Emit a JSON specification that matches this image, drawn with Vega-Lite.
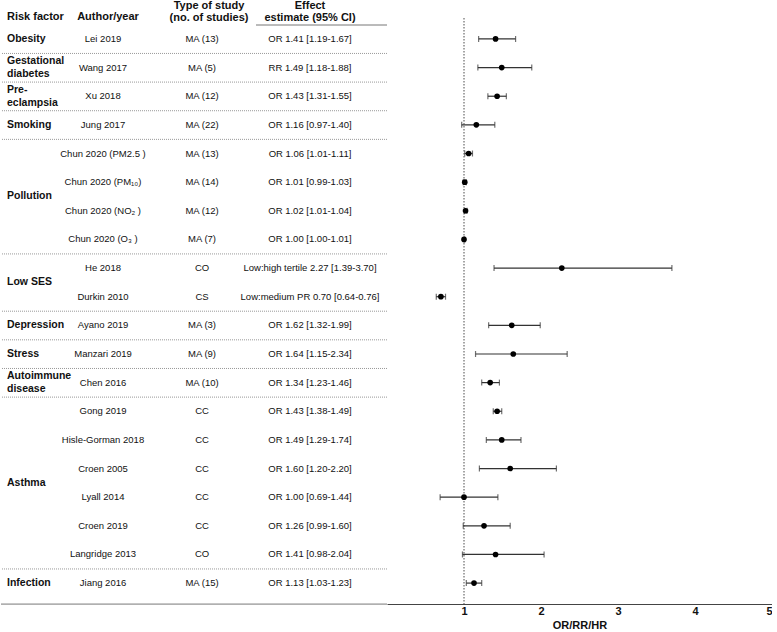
{
  "$schema": "https://vega.github.io/schema/vega-lite/v6.json",
  "background": "white",
  "padding": 0,
  "spacing": 0,
  "bounds": "flush",
  "config": {"view": {"stroke": null}, "font": "Liberation Sans", "text": {"font": "Liberation Sans", "color": "#111"}},
  "datasets": {
    "rows": [
      {"row": 1, "factor": "Obesity", "author": "Lei 2019", "type": "MA (13)", "effect": "OR 1.41 [1.19-1.67]", "est": 1.41, "lo": 1.19, "hi": 1.67},
      {"row": 2, "factor": "Gestational\ndiabetes", "author": "Wang 2017", "type": "MA (5)", "effect": "RR 1.49 [1.18-1.88]", "est": 1.49, "lo": 1.18, "hi": 1.88},
      {"row": 3, "factor": "Pre-\neclampsia", "author": "Xu 2018", "type": "MA (12)", "effect": "OR 1.43 [1.31-1.55]", "est": 1.43, "lo": 1.31, "hi": 1.55},
      {"row": 4, "factor": "Smoking", "author": "Jung 2017", "type": "MA (22)", "effect": "OR 1.16 [0.97-1.40]", "est": 1.16, "lo": 0.97, "hi": 1.40},
      {"row": 5, "factor": "Pollution", "author": "Chun 2020 (PM2.5 )", "type": "MA (13)", "effect": "OR 1.06 [1.01-1.11]", "est": 1.06, "lo": 1.01, "hi": 1.11},
      {"row": 6, "factor": "Pollution", "author": "Chun 2020 (PM₁₀)", "type": "MA (14)", "effect": "OR 1.01 [0.99-1.03]", "est": 1.01, "lo": 0.99, "hi": 1.03},
      {"row": 7, "factor": "Pollution", "author": "Chun 2020 (NO₂ )", "type": "MA (12)", "effect": "OR 1.02 [1.01-1.04]", "est": 1.02, "lo": 1.01, "hi": 1.04},
      {"row": 8, "factor": "Pollution", "author": "Chun 2020 (O₃ )", "type": "MA (7)", "effect": "OR 1.00 [1.00-1.01]", "est": 1.00, "lo": 1.00, "hi": 1.01},
      {"row": 9, "factor": "Low SES", "author": "He 2018", "type": "CO", "effect": "Low:high tertile 2.27 [1.39-3.70]", "est": 2.27, "lo": 1.39, "hi": 3.70},
      {"row": 10, "factor": "Low SES", "author": "Durkin 2010", "type": "CS", "effect": "Low:medium PR 0.70 [0.64-0.76]", "est": 0.70, "lo": 0.64, "hi": 0.76},
      {"row": 11, "factor": "Depression", "author": "Ayano 2019", "type": "MA (3)", "effect": "OR 1.62 [1.32-1.99]", "est": 1.62, "lo": 1.32, "hi": 1.99},
      {"row": 12, "factor": "Stress", "author": "Manzari 2019", "type": "MA (9)", "effect": "OR 1.64 [1.15-2.34]", "est": 1.64, "lo": 1.15, "hi": 2.34},
      {"row": 13, "factor": "Autoimmune\ndisease", "author": "Chen 2016", "type": "MA (10)", "effect": "OR 1.34 [1.23-1.46]", "est": 1.34, "lo": 1.23, "hi": 1.46},
      {"row": 14, "factor": "Asthma", "author": "Gong 2019", "type": "CC", "effect": "OR 1.43 [1.38-1.49]", "est": 1.43, "lo": 1.38, "hi": 1.49},
      {"row": 15, "factor": "Asthma", "author": "Hisle-Gorman 2018", "type": "CC", "effect": "OR 1.49 [1.29-1.74]", "est": 1.49, "lo": 1.29, "hi": 1.74},
      {"row": 16, "factor": "Asthma", "author": "Croen 2005", "type": "CC", "effect": "OR 1.60 [1.20-2.20]", "est": 1.60, "lo": 1.20, "hi": 2.20},
      {"row": 17, "factor": "Asthma", "author": "Lyall 2014", "type": "CC", "effect": "OR 1.00 [0.69-1.44]", "est": 1.00, "lo": 0.69, "hi": 1.44},
      {"row": 18, "factor": "Asthma", "author": "Croen 2019", "type": "CC", "effect": "OR 1.26 [0.99-1.60]", "est": 1.26, "lo": 0.99, "hi": 1.60},
      {"row": 19, "factor": "Asthma", "author": "Langridge 2013", "type": "CO", "effect": "OR 1.41 [0.98-2.04]", "est": 1.41, "lo": 0.98, "hi": 2.04},
      {"row": 20, "factor": "Infection", "author": "Jiang 2016", "type": "MA (15)", "effect": "OR 1.13 [1.03-1.23]", "est": 1.13, "lo": 1.03, "hi": 1.23}
    ],
    "header": [
      {"col": "risk", "label": "Risk factor"},
      {"col": "author", "label": "Author/year"},
      {"col": "type", "label": "Type of study\n(no. of studies)"},
      {"col": "effect", "label": "Effect\nestimate (95% CI)"}
    ],
    "one": [{}]
  },
  "hconcat": [
    {
      "width": 386,
      "height": 604,
      "layer": [
        {
          "data": {"name": "header"},
          "transform": [{"filter": "datum.col === 'risk'"}],
          "mark": {"type": "text", "align": "left", "baseline": "bottom", "dy": 12, "fontWeight": "bold", "fontSize": 11, "lineHeight": 12},
          "encoding": {
            "x": {"field": "col", "type": "nominal", "scale": {"type": "point", "domain": ["risk", "author", "type", "effect"], "range": [6, 309], "padding": 0}, "axis": null},
            "y": {"datum": 0, "type": "quantitative", "scale": {"domain": [-0.36, 20.73], "reverse": true, "nice": false, "zero": false}, "axis": null},
            "text": {"field": "label"}
          }
        },
        {
          "data": {"name": "header"},
          "transform": [{"filter": "datum.col === 'author'"}],
          "mark": {"type": "text", "align": "center", "baseline": "bottom", "dy": 12, "fontWeight": "bold", "fontSize": 11, "lineHeight": 12},
          "encoding": {
            "x": {"field": "col", "type": "nominal"},
            "y": {"datum": 0, "type": "quantitative"},
            "text": {"field": "label"}
          }
        },
        {
          "data": {"name": "header"},
          "transform": [{"filter": "datum.col === 'type' || datum.col === 'effect'"}],
          "mark": {"type": "text", "align": "center", "baseline": "bottom", "dy": 1, "fontWeight": "bold", "fontSize": 11, "lineHeight": 12, "lineBreak": "\n"},
          "encoding": {
            "x": {"field": "col", "type": "nominal"},
            "y": {"datum": 0, "type": "quantitative"},
            "text": {"field": "label"}
          }
        },
        {
          "data": {"name": "rows"},
          "transform": [
            {"aggregate": [{"op": "mean", "field": "row", "as": "r"}], "groupby": ["factor"]},
            {"filter": "indexof(datum.factor, '\\n') < 0"}
          ],
          "mark": {"type": "text", "align": "left", "baseline": "middle", "fontWeight": "bold", "fontSize": 10.5},
          "encoding": {
            "x": {"datum": "risk", "type": "nominal"},
            "y": {"field": "r", "type": "quantitative"},
            "text": {"field": "factor"}
          }
        },
        {
          "data": {"name": "rows"},
          "transform": [
            {"aggregate": [{"op": "mean", "field": "row", "as": "r"}], "groupby": ["factor"]},
            {"filter": "indexof(datum.factor, '\\n') >= 0"}
          ],
          "mark": {"type": "text", "align": "left", "baseline": "middle", "fontWeight": "bold", "fontSize": 10.5, "lineHeight": 13, "lineBreak": "\n", "dy": -6.5},
          "encoding": {
            "x": {"datum": "risk", "type": "nominal"},
            "y": {"field": "r", "type": "quantitative"},
            "text": {"field": "factor"}
          }
        },
        {
          "data": {"name": "rows"},
          "mark": {"type": "text", "align": "center", "baseline": "middle", "fontSize": 9.5, "xOffset": -5},
          "encoding": {
            "x": {"datum": "author", "type": "nominal"},
            "y": {"field": "row", "type": "quantitative"},
            "text": {"field": "author"}
          }
        },
        {
          "data": {"name": "rows"},
          "mark": {"type": "text", "align": "center", "baseline": "middle", "fontSize": 9.5, "xOffset": -7},
          "encoding": {
            "x": {"datum": "type", "type": "nominal"},
            "y": {"field": "row", "type": "quantitative"},
            "text": {"field": "type"}
          }
        },
        {
          "data": {"name": "rows"},
          "mark": {"type": "text", "align": "center", "baseline": "middle", "fontSize": 9.5},
          "encoding": {
            "x": {"datum": "effect", "type": "nominal"},
            "y": {"field": "row", "type": "quantitative"},
            "text": {"field": "effect"}
          }
        },
        {
          "data": {"name": "rows"},
          "transform": [
            {"aggregate": [{"op": "max", "field": "row", "as": "last"}], "groupby": ["factor"]},
            {"filter": "datum.factor !== 'Infection'"}
          ],
          "mark": {"type": "rule", "color": "#999", "strokeWidth": 1, "strokeDash": [1, 1], "yOffset": 14.5},
          "encoding": {
            "y": {"field": "last", "type": "quantitative"}
          }
        },
        {
          "data": {"name": "rows"},
          "transform": [{"aggregate": [{"op": "max", "field": "row", "as": "last"}]}],
          "mark": {"type": "rule", "color": "#777", "strokeWidth": 1, "yOffset": 21},
          "encoding": {
            "y": {"field": "last", "type": "quantitative"}
          }
        },
        {
          "data": {"name": "one"},
          "mark": {"type": "rule", "color": "#777", "strokeWidth": 1, "xOffset": -54, "x2Offset": 77, "yOffset": 14.7},
          "encoding": {
            "x": {"datum": "effect", "type": "nominal"},
            "x2": {"datum": "effect"},
            "y": {"datum": 0, "type": "quantitative"}
          }
        }
      ]
    },
    {
      "width": 385,
      "height": 604,
      "layer": [
        {
          "data": {"name": "one"},
          "mark": {"type": "rule", "color": "#888", "strokeWidth": 1.5, "strokeDash": [1.5, 1.5]},
          "encoding": {
            "x": {"datum": 1, "type": "quantitative", "scale": {"domain": [0, 5], "nice": false, "zero": false},
              "axis": {"values": [1, 2, 3, 4, 5], "format": "d", "ticks": false, "grid": false, "domainColor": "#444", "domainWidth": 1.2, "labelFontWeight": "bold", "labelFontSize": 11, "labelColor": "#111", "labelPadding": 1, "labelFont": "Liberation Sans", "title": "OR/RR/HR", "titleFontWeight": "bold", "titleFontSize": 11, "titleColor": "#111", "titlePadding": 3, "titleFont": "Liberation Sans"}},
            "y": {"datum": 0.27, "type": "quantitative", "scale": {"domain": [-0.36, 20.73], "reverse": true, "nice": false, "zero": false}, "axis": null},
            "y2": {"datum": 20.73}
          }
        },
        {
          "data": {"name": "rows"},
          "mark": {"type": "rule", "color": "#333", "strokeWidth": 1.2},
          "encoding": {
            "x": {"field": "lo", "type": "quantitative"},
            "x2": {"field": "hi"},
            "y": {"field": "row", "type": "quantitative"}
          }
        },
        {
          "data": {"name": "rows"},
          "mark": {"type": "tick", "orient": "vertical", "color": "#333", "size": 6, "thickness": 1.2},
          "encoding": {
            "x": {"field": "lo", "type": "quantitative"},
            "y": {"field": "row", "type": "quantitative"}
          }
        },
        {
          "data": {"name": "rows"},
          "mark": {"type": "tick", "orient": "vertical", "color": "#333", "size": 6, "thickness": 1.2},
          "encoding": {
            "x": {"field": "hi", "type": "quantitative"},
            "y": {"field": "row", "type": "quantitative"}
          }
        },
        {
          "data": {"name": "rows"},
          "mark": {"type": "point", "filled": true, "color": "#000", "size": 32, "opacity": 1},
          "encoding": {
            "x": {"field": "est", "type": "quantitative"},
            "y": {"field": "row", "type": "quantitative"}
          }
        }
      ]
    }
  ]
}
